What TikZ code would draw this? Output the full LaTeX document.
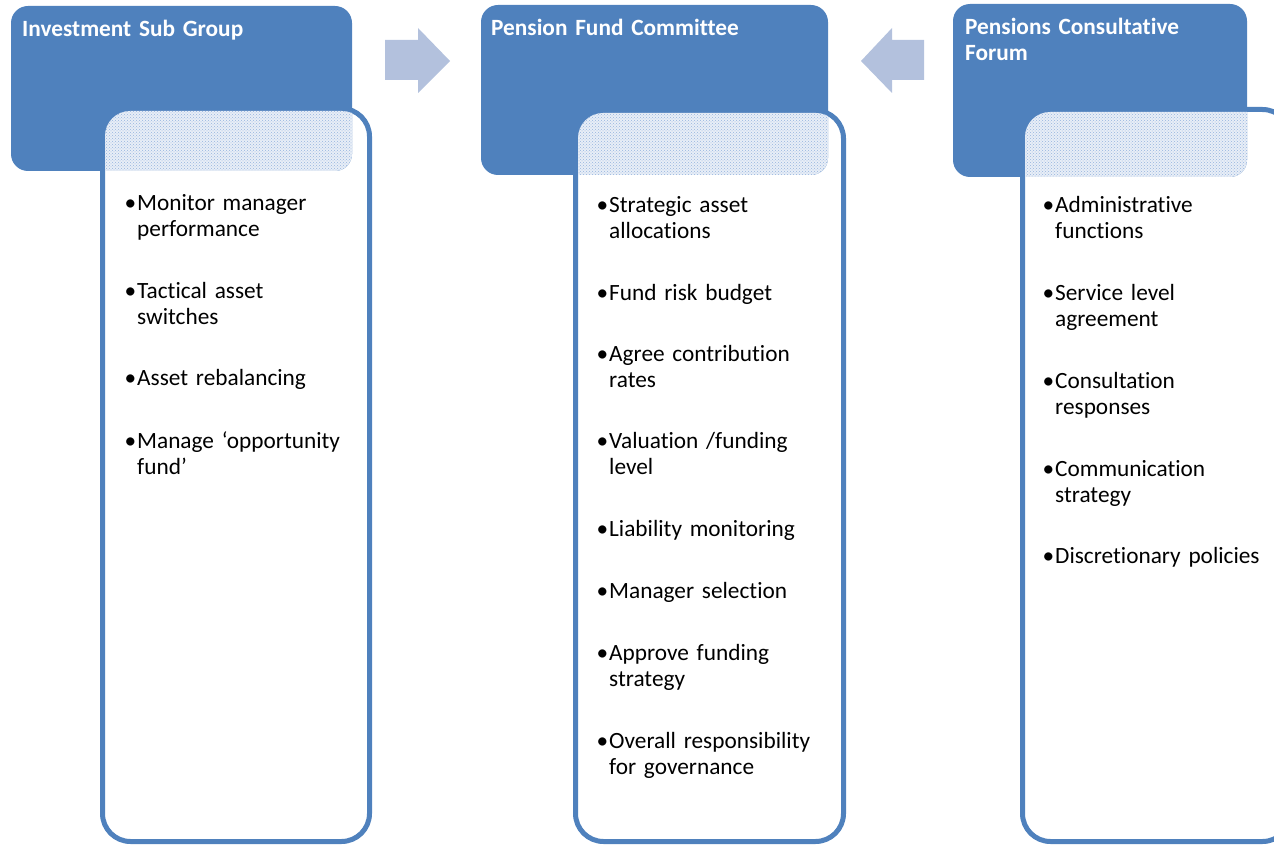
\documentclass[tikz,border=0pt]{standalone}
\usepackage{fontspec}
\setmainfont[Ligatures=NoCommon]{Carlito}
\usetikzlibrary{patterns}
\definecolor{acc}{RGB}{79,129,189}
\definecolor{arr}{RGB}{179,193,221}
\definecolor{dotc}{RGB}{150,180,222}
\definecolor{dotbg}{RGB}{232,238,247}
\begin{document}
\begin{tikzpicture}[x=1pt,y=-1pt,
  hdr/.style={fill=acc, rounded corners=17pt},
  bodybox/.style={draw=acc, line width=5pt, fill=white, rounded corners=28pt},
  dotfill/.style={pattern=crosshatch dots, pattern color=dotc},
  htext/.style={anchor=base west, inner sep=0pt, text width=300pt, align=left,
    font=\fontsize{23.3}{26}\selectfont\bfseries, text=white},
  item/.style={anchor=base west, inner sep=0pt, text width=240pt, align=left,
    font=\fontsize{23.3}{26}\selectfont, text=black},
  arrowshape/.style={fill=arr}]
\useasboundingbox (0,0) rectangle (1274,845);

% ---- bodies
\path[bodybox] (102.5,108.5) rectangle (369.5,841.5);
\path[bodybox] (575.5,110.5) rectangle (843.5,841.5);
\path[bodybox] (1022.5,109.5) rectangle (1290.5,841.5);

% ---- headers
\path[hdr] (11,6) rectangle (352,171);
\path[hdr] (481,5) rectangle (828,175);
\path[hdr] (953,4) rectangle (1247,177);

% ---- dotted overlaps
\begin{scope}
  \clip[rounded corners=17pt] (11,6) rectangle (352,171);
  \fill[dotbg, rounded corners=25pt] (105,111) rectangle (367,839);
  \fill[dotfill, rounded corners=25pt] (105,111) rectangle (367,839);
\end{scope}
\begin{scope}
  \clip[rounded corners=17pt] (481,5) rectangle (828,175);
  \fill[dotbg, rounded corners=25pt] (578,113) rectangle (841,839);
  \fill[dotfill, rounded corners=25pt] (578,113) rectangle (841,839);
\end{scope}
\begin{scope}
  \clip[rounded corners=17pt] (953,4) rectangle (1247,177);
  \fill[dotbg, rounded corners=25pt] (1025,112) rectangle (1288,839);
  \fill[dotfill, rounded corners=25pt] (1025,112) rectangle (1288,839);
\end{scope}

% ---- arrows
\fill[arrowshape] (385,40) -- (418,40) -- (418,28) -- (450,61) -- (418,93) -- (418,80) -- (385,80) -- cycle;
\fill[arrowshape] (924,40) -- (892,40) -- (892,28) -- (861,61) -- (892,93) -- (892,80) -- (924,80) -- cycle;

% ---- header texts
\node[htext] (t1) at (22,37) {Investment Sub Group};
\node[htext] (t2) at (491,36) {Pension Fund Committee};
\node[htext] (t3) at (965,35) {Pensions Consultative\\Forum};

% ---- left items
\node[item] (l1) at (137,211) {\llap{•\hspace{1pt}}Monitor manager\\performance};
\node[item] (l2) at (137,298) {\llap{•\hspace{1pt}}Tactical asset\\switches};
\node[item] (l3) at (137,385) {\llap{•\hspace{1pt}}Asset rebalancing};
\node[item] (l4) at (137,448) {\llap{•\hspace{1pt}}Manage ‘opportunity\\fund’};

% ---- middle items
\node[item] (m1) at (609,212) {\llap{•\hspace{1pt}}Strategic asset\\allocations};
\node[item] (m2) at (609,300) {\llap{•\hspace{1pt}}Fund risk budget};
\node[item] (m3) at (609,361) {\llap{•\hspace{1pt}}Agree contribution\\rates};
\node[item] (m4) at (609,448) {\llap{•\hspace{1pt}}Valuation /funding\\level};
\node[item] (m5) at (609,536) {\llap{•\hspace{1pt}}Liability monitoring};
\node[item] (m6) at (609,598) {\llap{•\hspace{1pt}}Manager selection};
\node[item] (m7) at (609,660) {\llap{•\hspace{1pt}}Approve funding\\strategy};
\node[item] (m8) at (609,748) {\llap{•\hspace{1pt}}Overall responsibility\\for governance};

% ---- right items
\node[item] (r1) at (1055,212) {\llap{•\hspace{1pt}}Administrative\\functions};
\node[item] (r2) at (1055,300) {\llap{•\hspace{1pt}}Service level\\agreement};
\node[item] (r3) at (1055,388) {\llap{•\hspace{1pt}}Consultation\\responses};
\node[item] (r4) at (1055,476) {\llap{•\hspace{1pt}}Communication\\strategy};
\node[item] (r5) at (1055,563) {\llap{•\hspace{1pt}}Discretionary policies};
\end{tikzpicture}
\end{document}
